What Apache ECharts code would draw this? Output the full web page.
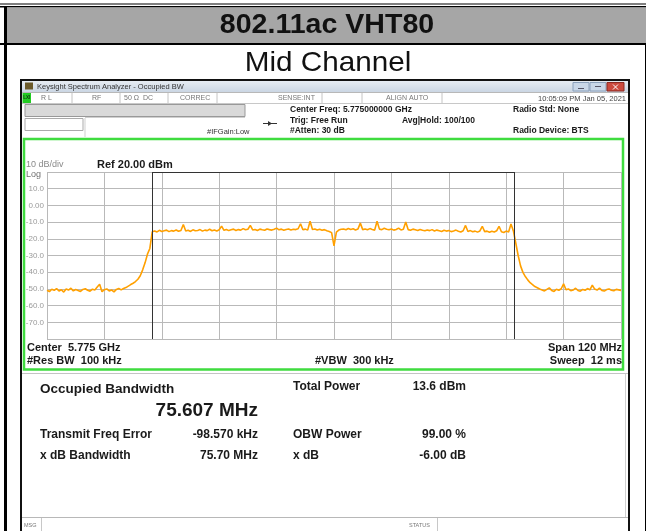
<!DOCTYPE html>
<html>
<head>
<meta charset="utf-8">
<title>802.11ac VHT80 - Mid Channel</title>
<script src="https://cdn.jsdelivr.net/npm/echarts@6/dist/echarts.min.js"></script>
<style>
    html, body { margin: 0; padding: 0; background: #fff; }
    #main { width: 646px; height: 531px; }
</style>
</head>
<body>
<div id="main"></div>
<script>
// sweep 5.715 - 5.835 GHz, x kept as offset from center freq (MHz)
var centerMHz = 5775;
var startOffset = -60;
var stepMHz = 0.5;

// trace, one value per 0.5 MHz
var traceDbm = [
    // left noise floor
    -50.8, -51.6, -50.2, -50.9, -49.8, -51.3, -50.5, -51.9, -50.1, -50.7,
    -49.6, -51.2, -50.4, -50.9, -51.5, -50.3, -49.9, -50.8, -51.4, -50.2,
    -50.6, -48.9, -47.2, -51.7, -50.5, -50.0, -51.2, -50.6, -51.8, -50.3,
    -49.7, -50.6,
    // rising edge
    -49.8, -49.2, -48.3, -47.4, -46.6, -45.6, -44.2, -42.1, -38.6, -34.4,
    -29.2, -25.8,
    // channel
    -15.8, -15.3, -15.9, -14.9, -15.6, -15.2, -14.8, -15.7, -15.1, -15.4,
    -14.7, -15.5, -15.0, -11.4, -15.3, -14.9, -15.6, -14.6, -15.2, -15.0,
    -14.5, -15.4, -14.8, -15.1, -14.3, -15.2, -14.7, -15.3, -14.6, -12.4,
    -14.9, -14.4, -15.1, -14.6, -14.2, -15.0, -14.5, -14.8, -13.9, -14.6,
    -14.3, -12.0, -14.7, -14.4, -15.0, -14.2, -14.6, -14.9, -14.1, -14.5,
    -14.8, -14.3, -13.6, -14.6, -14.2, -14.9, -14.4, -14.1, -14.7, -14.3,
    -14.5, -14.0, -11.0, -14.6, -14.2, -14.8, -9.5, -14.4, -14.1, -14.7,
    -14.3, -14.9, -14.5, -15.2, -15.6, -16.3, -24.2, -16.0, -14.8, -14.3,
    -14.1, -14.6, -13.8, -14.4, -14.0, -14.7, -14.2, -10.6, -14.5, -14.1,
    -14.6, -13.9, -14.4, -14.8, -9.5, -14.2, -14.5, -13.7, -14.3, -14.6,
    -14.1, -14.8, -14.4, -13.6, -14.7, -14.3, -10.0, -14.5, -14.9, -14.2,
    -14.6, -15.0, -14.4, -14.9, -15.2, -14.7, -15.1, -14.5, -15.3, -14.8,
    -15.2, -15.6, -14.9, -15.4, -15.0, -15.7, -15.3, -14.8, -15.5, -15.9,
    -15.2, -12.0, -15.6, -15.1, -15.8, -15.4, -16.0, -15.3, -12.5, -15.7,
    -15.4, -16.1, -15.5, -15.9, -15.2, -12.5, -15.8, -16.2, -15.4, -15.9,
    -11.2, -15.3,
    // falling edge
    -22.5, -30.0, -36.2, -40.1, -42.6, -44.6, -46.3, -47.4, -48.6, -49.3,
    -50.1,
    // right noise floor
    -50.6, -51.2, -50.3, -49.4, -50.9, -51.5, -50.2, -50.8, -49.9, -47.0,
    -50.5, -50.0, -51.1, -50.7, -49.6, -50.9, -51.4, -50.3, -50.8, -49.8,
    -50.6, -47.8, -50.1, -50.7, -49.5, -50.9, -51.3, -50.4, -50.0, -50.8,
    -51.1, -50.3, -50.6, -50.9
];

// occupied bandwidth markers (offset MHz)
var obwMarkers = [-37.90, 37.71];

var yTickValues = [10, 0, -10, -20, -30, -40, -50, -60, -70];
var yTickLabels = ['10.0', '0.00', '-10.0', '-20.0', '-30.0', '-40.0', '-50.0', '-60.0', '-70.0'];

var traceData = [];
for (var i = 0; i < traceDbm.length; i++) {
    traceData.push([startOffset + i * stepMHz, traceDbm[i]]);
}

var FONT = '"Liberation Sans", Arial, sans-serif';

function txt(x, y, s, size, color, align, bold) {
    return {
        type: 'text', x: x, y: y, silent: true,
        style: {
            text: s, fill: color || '#1a1a1a',
            font: (bold ? 'bold ' : '') + size + 'px ' + FONT,
            textAlign: align || 'left', textVerticalAlign: 'middle'
        }
    };
}
function box(x, y, w, h, fill, stroke, lw) {
    return {
        type: 'rect', silent: true,
        shape: {x: x, y: y, width: w, height: h},
        style: {fill: fill || 'none', stroke: stroke || 'none', lineWidth: lw || 1}
    };
}
function ln(x1, y1, x2, y2, color, lw) {
    return {
        type: 'line', silent: true,
        shape: {x1: x1, y1: y1, x2: x2, y2: y2},
        style: {stroke: color || '#000', lineWidth: lw || 1}
    };
}

var graphics = [
    // page frame + title cell
    box(0, 3.5, 646, 1, '#000'),
    box(0, 6, 646, 1.5, '#000'),
    box(7, 7.5, 639, 35.5, '#a6a6a6'),
    box(0, 43, 646, 2, '#000'),
    box(4, 7, 3, 524, '#000'),
    ln(645.5, 44, 645.5, 531, '#000', 1),
    {
        type: 'text', x: 327, y: 25, scaleX: 1.02, silent: true,
        style: {text: '802.11ac VHT80', fill: '#111', font: 'bold 28px ' + FONT,
            textAlign: 'center', textVerticalAlign: 'middle'}
    },
    {
        type: 'text', x: 328, y: 63, scaleX: 1.06, silent: true,
        style: {text: 'Mid Channel', fill: '#111', font: '28px ' + FONT,
            textAlign: 'center', textVerticalAlign: 'middle'}
    },

    // analyzer window
    box(21, 80, 608, 460, '#fff', '#111', 2),
    {
        type: 'rect', silent: true, shape: {x: 22, y: 81, width: 606, height: 11},
        style: {fill: new echarts.graphic.LinearGradient(0, 0, 0, 1, [
            {offset: 0, color: '#e6ecf3'}, {offset: 1, color: '#cbd6e3'}])}
    },
    box(25, 82.5, 8, 7, '#6b5a2a'),
    txt(37, 86.5, 'Keysight Spectrum Analyzer - Occupied BW', 7.5, '#333'),
    box(573, 82.5, 16, 8.5, '#c9d7e8', '#8aa0bb', 1),
    box(590, 82.5, 16, 8.5, '#c9d7e8', '#8aa0bb', 1),
    box(607, 82.5, 17, 8.5, '#cc4a3e', '#8c2a22', 1),
    ln(578, 88.5, 584, 88.5, '#556', 1),
    ln(595, 86.5, 601, 86.5, '#556', 1),
    ln(613, 84.5, 618, 89.5, '#fff', 1),
    ln(618, 84.5, 613, 89.5, '#fff', 1),

    // status strip
    ln(22, 92.5, 628, 92.5, '#b8b8b8', 1),
    ln(22, 103.5, 628, 103.5, '#c8c8c8', 1),
    box(22.5, 93, 8.5, 10, '#22cc22'),
    txt(26.7, 98, 'LXI', 4.5, '#124012', 'center', true),
    txt(41, 98.5, 'R L', 7, '#777'),
    txt(92, 98.5, 'RF', 7, '#777'),
    txt(124, 98.5, '50 \u03a9', 7, '#777'),
    txt(143, 98.5, 'DC', 7, '#777'),
    txt(180, 98.5, 'CORREC', 7, '#777'),
    txt(278, 98.5, 'SENSE:INT', 7, '#777'),
    txt(386, 98.5, 'ALIGN AUTO', 7, '#777'),
    txt(626, 98.5, '10:05:09 PM Jan 05, 2021', 7.5, '#444', 'right'),
    ln(72, 93, 72, 103, '#c4c4c4', 1),
    ln(120, 93, 120, 103, '#c4c4c4', 1),
    ln(168, 93, 168, 103, '#c4c4c4', 1),
    ln(217, 93, 217, 103, '#c4c4c4', 1),
    ln(322, 93, 322, 103, '#c4c4c4', 1),
    ln(362, 93, 362, 103, '#c4c4c4', 1),
    ln(442, 93, 442, 103, '#c4c4c4', 1),

    // left header boxes
    box(25, 104.5, 220, 12, '#d9d9d9', '#999', 1),
    box(25, 118.5, 58, 12, '#fff', '#aaa', 1),
    ln(85, 118, 85, 137, '#cfcfcf', 1),
    ln(85, 117.5, 245, 117.5, '#cfcfcf', 1),
    txt(207, 132, '#IFGain:Low', 7.5, '#333'),
    ln(263, 123.5, 277, 123.5, '#333', 1),
    {type: 'polygon', silent: true, shape: {points: [[268, 121], [268, 126], [272, 123.5]]},
        style: {fill: '#333'}},

    // measurement settings
    txt(290, 110, 'Center Freq: 5.775000000 GHz', 8.5, '#1a1a1a', 'left', true),
    txt(290, 120.5, 'Trig: Free Run', 8.5, '#1a1a1a', 'left', true),
    txt(290, 131, '#Atten: 30 dB', 8.5, '#1a1a1a', 'left', true),
    txt(402, 120.5, 'Avg|Hold: 100/100', 8.5, '#1a1a1a', 'left', true),
    txt(513, 110, 'Radio Std: None', 8.5, '#1a1a1a', 'left', true),
    txt(513, 131, 'Radio Device: BTS', 8.5, '#1a1a1a', 'left', true),

    // trace window (green) and annotations
    box(24, 139, 599, 230.5, 'none', '#3fdc3f', 2.5),
    txt(26, 165, '10 dB/div', 9, '#8a8a8a'),
    txt(26, 175, 'Log', 9, '#707070'),
    txt(97, 165, 'Ref 20.00 dBm', 11, '#1a1a1a', 'left', true),
    txt(27, 348, 'Center  5.775 GHz', 11, '#1a1a1a', 'left', true),
    txt(27, 360.5, '#Res BW  100 kHz', 11, '#1a1a1a', 'left', true),
    txt(315, 360.5, '#VBW  300 kHz', 11, '#1a1a1a', 'left', true),
    txt(622, 348, 'Span 120 MHz', 11, '#1a1a1a', 'right', true),
    txt(622, 360.5, 'Sweep  12 ms', 11, '#1a1a1a', 'right', true),

    // results panel
    ln(22, 373.5, 628, 373.5, '#c4c4c4', 1),
    ln(625.5, 374, 625.5, 517, '#d0d0d0', 1),
    txt(40, 389, 'Occupied Bandwidth', 13.5, '#1a1a1a', 'left', true),
    txt(258, 410.5, '75.607 MHz', 19, '#1a1a1a', 'right', true),
    txt(293, 387, 'Total Power', 12, '#1a1a1a', 'left', true),
    txt(466, 387, '13.6 dBm', 12, '#1a1a1a', 'right', true),
    txt(40, 435, 'Transmit Freq Error', 12, '#1a1a1a', 'left', true),
    txt(258, 435, '-98.570 kHz', 12, '#1a1a1a', 'right', true),
    txt(293, 435, 'OBW Power', 12, '#1a1a1a', 'left', true),
    txt(466, 435, '99.00 %', 12, '#1a1a1a', 'right', true),
    txt(40, 455.5, 'x dB Bandwidth', 12, '#1a1a1a', 'left', true),
    txt(258, 455.5, '75.70 MHz', 12, '#1a1a1a', 'right', true),
    txt(293, 455.5, 'x dB', 12, '#1a1a1a', 'left', true),
    txt(466, 455.5, '-6.00 dB', 12, '#1a1a1a', 'right', true),

    // message bar
    ln(22, 517.5, 628, 517.5, '#b8b8b8', 1),
    txt(24, 525, 'MSG', 5.5, '#777'),
    ln(41.5, 518, 41.5, 531, '#c8c8c8', 1),
    txt(409, 525, 'STATUS', 5.5, '#777'),
    ln(437.5, 518, 437.5, 531, '#c8c8c8', 1)
];

var myChart = echarts.init(document.getElementById('main'));
var option = {
    animation: false,
    backgroundColor: '#fff',
    graphic: {elements: graphics},
    grid: {
        left: 47, top: 172, width: 574, height: 167,
        show: true, borderColor: '#6e6e6e', borderWidth: 1
    },
    xAxis: {
        type: 'value', min: -60, max: 60, interval: 12,
        axisLine: {show: false}, axisTick: {show: false}, axisLabel: {show: false},
        splitLine: {show: true, lineStyle: {color: '#b9b9b9', width: 1}}
    },
    yAxis: {
        type: 'value', min: -80, max: 20, interval: 10,
        axisLine: {show: false}, axisTick: {show: false},
        axisLabel: {
            margin: 3, color: '#9a9a9a', fontSize: 8, fontFamily: FONT,
            formatter: function (v) {
                var idx = yTickValues.indexOf(v);
                return idx < 0 ? '' : yTickLabels[idx];
            }
        },
        splitLine: {show: true, lineStyle: {color: '#b9b9b9', width: 1}}
    },
    series: [{
        name: 'Trace',
        type: 'line',
        data: traceData,
        symbol: 'none',
        lineStyle: {color: '#ffa000', width: 1.6},
        z: 3,
        markLine: {
            silent: true,
            symbol: 'none',
            label: {show: false},
            lineStyle: {color: '#333', width: 1, type: 'solid'},
            data: [
                {xAxis: obwMarkers[0]},
                {xAxis: obwMarkers[1]},
                [{coord: [obwMarkers[0], 20]}, {coord: [obwMarkers[1], 20]}]
            ]
        }
    }]
};
myChart.setOption(option);
</script>
</body>
</html>
